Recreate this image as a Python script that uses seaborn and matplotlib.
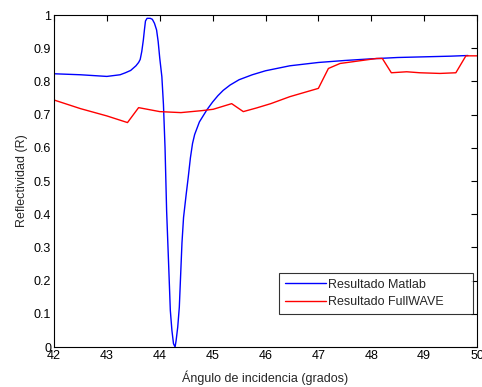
import numpy as np
import pandas as pd
import matplotlib
matplotlib.use("Agg")
import matplotlib.pyplot as plt
import seaborn as sns

# Blue: Resultado Matlab
angle_matlab = [42.0, 42.5, 43.0, 43.25, 43.35, 43.45, 43.55, 43.6, 43.63, 43.66, 43.69,
                43.71, 43.73, 43.76, 43.82, 43.86, 43.9, 43.94, 43.97, 44.0, 44.04,
                44.07, 44.1, 44.13, 44.17, 44.2, 44.23, 44.26, 44.29, 44.31, 44.34,
                44.37, 44.42, 44.45, 44.5, 44.54, 44.58, 44.62, 44.66, 44.75, 44.89,
                45.0, 45.1, 45.2, 45.33, 45.5, 45.75, 46.0, 46.46, 47.0, 47.5, 48.0,
                48.5, 49.0, 49.5, 49.83]
refl_matlab = [0.823, 0.820, 0.815, 0.820, 0.826, 0.833, 0.847, 0.857, 0.866, 0.89, 0.925,
               0.955, 0.982, 0.990, 0.990, 0.987, 0.975, 0.955, 0.92, 0.87, 0.814,
               0.73, 0.60, 0.41, 0.24, 0.11, 0.05, 0.01, 0.0, 0.02, 0.06,
               0.12, 0.313, 0.39, 0.46, 0.513, 0.57, 0.613, 0.64, 0.678, 0.714,
               0.738, 0.757, 0.773, 0.789, 0.805, 0.82, 0.832, 0.847, 0.857, 0.863, 0.868,
               0.872, 0.874, 0.876, 0.878]

# Red: Resultado FullWAVE
angle_full = [42.0, 42.5, 43.0, 43.39, 43.6, 44.0, 44.4, 44.8, 45.01, 45.36, 45.58,
              45.83, 46.1, 46.46, 47.0, 47.19, 47.41, 48.1, 48.21, 48.38, 48.67,
              48.92, 49.3, 49.6, 49.79, 50.0]
refl_full = [0.744, 0.718, 0.696, 0.676, 0.721, 0.709, 0.706, 0.712, 0.716, 0.733, 0.709,
             0.72, 0.733, 0.754, 0.779, 0.839, 0.854, 0.869, 0.869, 0.826, 0.829,
             0.826, 0.824, 0.826, 0.877, 0.877]

x_ticks = [42, 43, 44, 45, 46, 47, 48, 49, 50]
y_ticks = [0, 0.1, 0.2, 0.3, 0.4, 0.5, 0.6, 0.7, 0.8, 0.9, 1]
y_tick_labels = ["0", "0.1", "0.2", "0.3", "0.4", "0.5", "0.6", "0.7", "0.8", "0.9", "1"]

sns.set_style("white")
plt.rcParams['font.family'] = ['Liberation Sans', 'DejaVu Sans']

df = pd.concat([
    pd.DataFrame({"x": angle_matlab, "y": refl_matlab, "serie": "Resultado Matlab"}),
    pd.DataFrame({"x": angle_full, "y": refl_full, "serie": "Resultado FullWAVE"}),
])

fig = plt.figure(figsize=(4.82, 3.87), dpi=100)
ax = fig.add_axes([54/482, 1 - 347/387, (477-54)/482, (347-15)/387])
sns.lineplot(data=df, x="x", y="y", hue="serie", estimator=None, sort=False,
             palette={"Resultado Matlab": (0, 0, 1), "Resultado FullWAVE": (1, 0, 0)},
             linewidth=1.0, ax=ax)

ax.set_xlim(42, 50)
ax.set_ylim(0, 1)
ax.set_xticks(x_ticks)
ax.set_xticklabels([str(t) for t in x_ticks])
ax.set_yticks(y_ticks)
ax.set_yticklabels(y_tick_labels)
ax.tick_params(direction="in", length=4, width=0.8, top=True, right=True,
               labelsize=9, colors="black", pad=2)
for s in ax.spines.values():
    s.set_visible(True)
    s.set_color("black")
    s.set_linewidth(0.8)
ax.set_xlabel("Ángulo de incidencia (grados)", fontsize=9, labelpad=6)
ax.set_ylabel("Reflectividad (R)", fontsize=9, labelpad=4)

x0, x1, y0, y1 = 279/482, 473/482, 1 - 313/387, 1 - 273/387
leg = ax.legend(loc="upper left", bbox_to_anchor=(x0, y0, x1 - x0, y1 - y0),
                bbox_transform=fig.transFigure, mode="expand", fontsize=9, frameon=True,
                fancybox=False, edgecolor="black", borderpad=0.45, handlelength=3.3,
                handletextpad=0.2, labelspacing=0.45, borderaxespad=0)
leg.get_frame().set_linewidth(0.8)
leg.set_title(None)

fig.savefig("out.png", dpi=100)
